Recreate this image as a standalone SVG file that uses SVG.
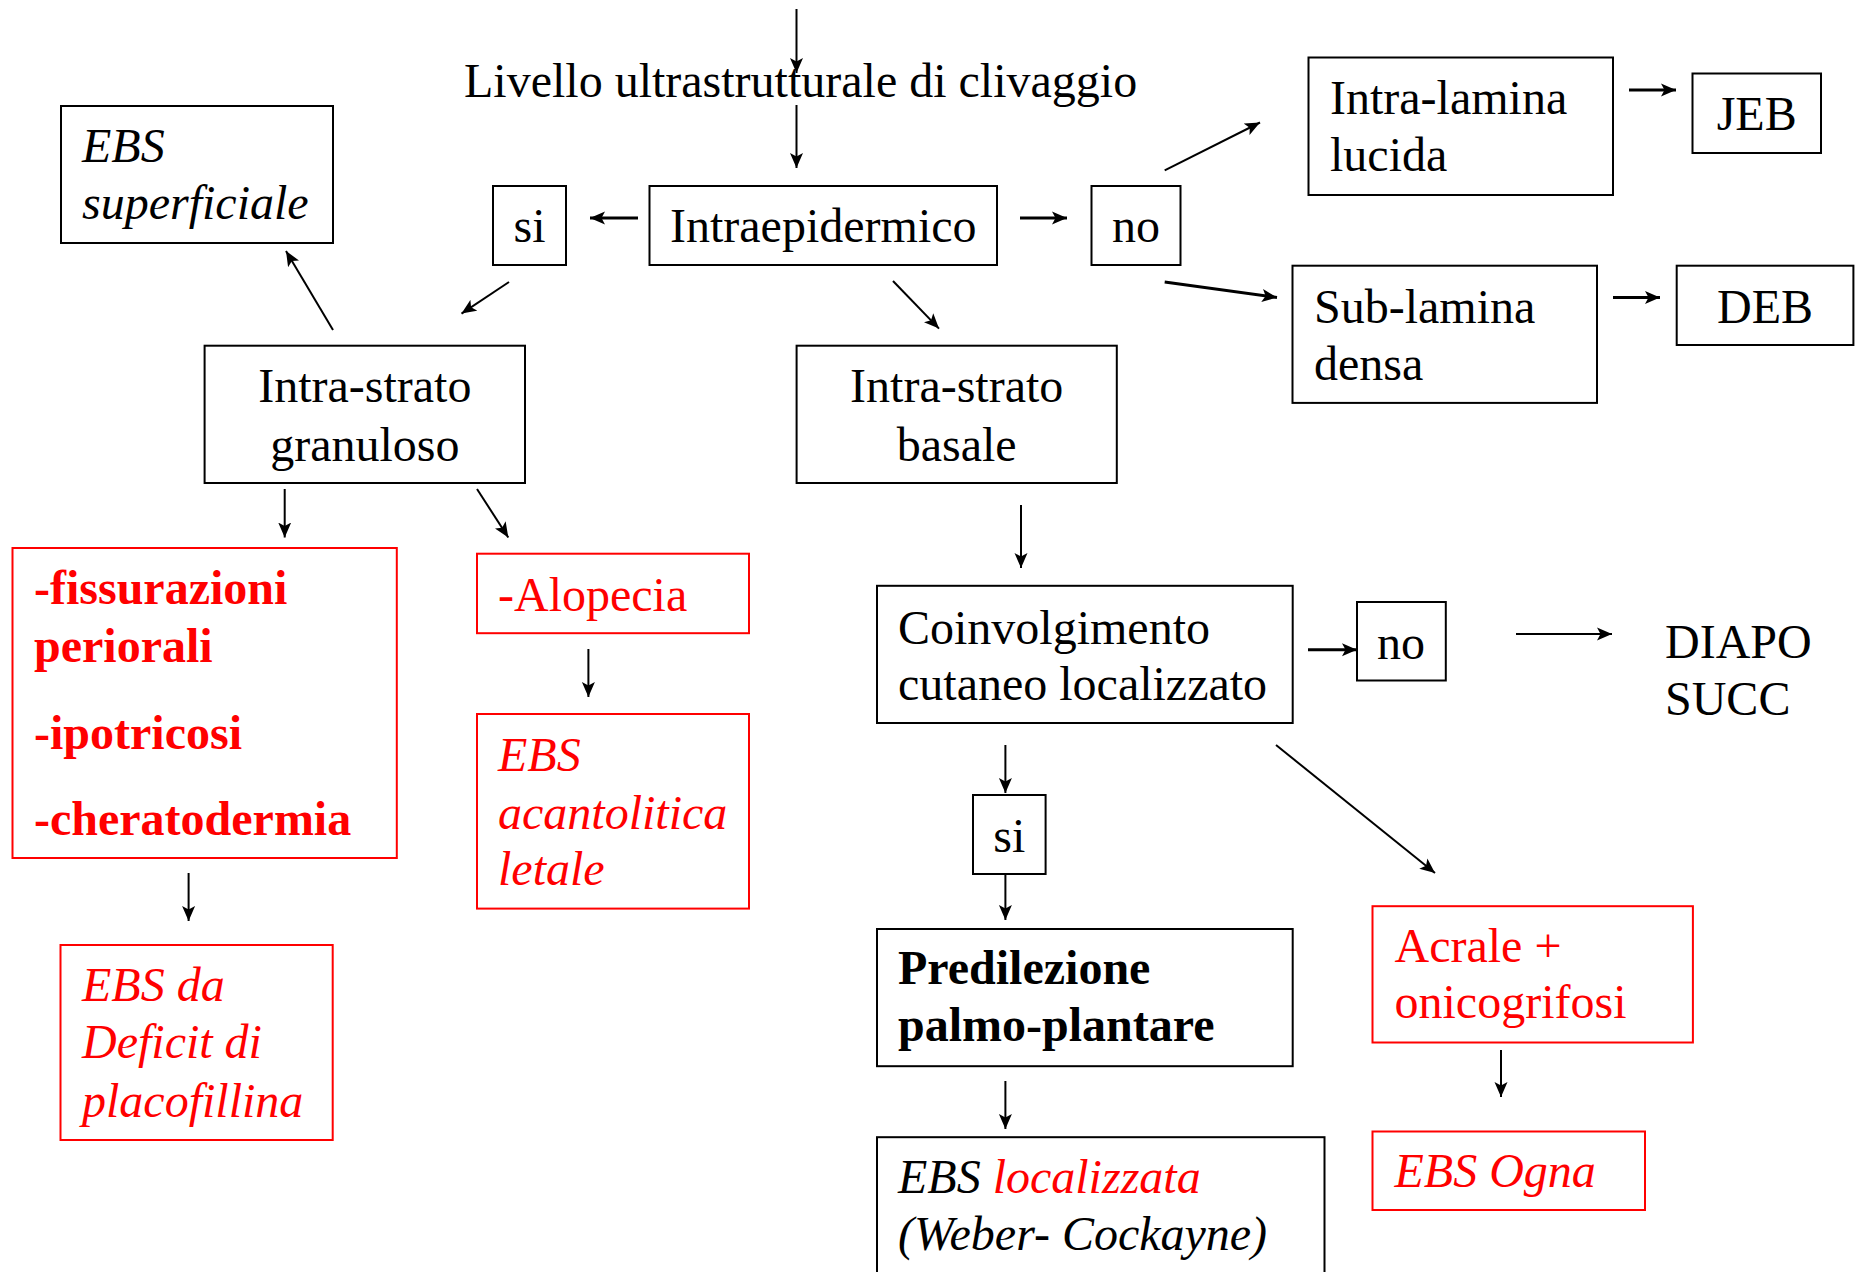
<svg xmlns="http://www.w3.org/2000/svg" width="1857" height="1272" viewBox="0 0 1857 1272">
  <style>
    text { font-family: "Liberation Serif", "Times New Roman", serif; font-size: 48px; fill: #000; }
    .red { fill: #ff0000; }
    .it { font-style: italic; }
    .b { font-weight: bold; }
    .mid { text-anchor: middle; }
    .box { fill: #fff; stroke: #000; stroke-width: 2; }
    .rbox { fill: #fff; stroke: #ff0000; stroke-width: 2; }
    .arrow { fill: none; stroke: #000; stroke-width: 2; marker-end: url(#head); }
    .thick { stroke-width: 3; }
  </style>
  <defs>
    <marker id="head" markerUnits="userSpaceOnUse" viewBox="0 0 16 14" refX="15" refY="7" markerWidth="16" markerHeight="14" orient="auto">
      <path d="M0,0.5 L15,7 L0,13.5 L3.5,7 Z" fill="#000"/>
    </marker>
  </defs>

  <rect width="1857" height="1272" fill="#fff"/>

  <!-- title -->
  <g id="title">
    <text x="464" y="97">Livello ultrastrutturale di clivaggio</text>
  </g>

  <!-- connectors -->
  <g id="connectors">
    <line class="arrow" x1="796.5" y1="9" x2="796.5" y2="73"/>
    <line class="arrow" x1="796.5" y1="105" x2="796.5" y2="168"/>
    <line class="arrow thick" x1="638" y1="218" x2="590" y2="218"/>
    <line class="arrow thick" x1="1020" y1="218" x2="1067" y2="218"/>
    <line class="arrow" x1="509" y1="282" x2="461.5" y2="313.6"/>
    <line class="arrow" x1="893" y1="281" x2="939" y2="328.6"/>
    <line class="arrow" x1="1164.7" y1="170.4" x2="1260" y2="122.5"/>
    <line class="arrow thick" x1="1164.7" y1="282" x2="1277" y2="297.5"/>
    <line class="arrow thick" x1="1629" y1="90" x2="1676" y2="90"/>
    <line class="arrow thick" x1="1613" y1="297.5" x2="1660" y2="297.5"/>
    <line class="arrow" x1="333" y1="330" x2="286" y2="251"/>
    <line class="arrow" x1="284.7" y1="489" x2="284.7" y2="537.5"/>
    <line class="arrow" x1="477" y1="489" x2="508.3" y2="537.5"/>
    <line class="arrow" x1="188.6" y1="873" x2="188.6" y2="921"/>
    <line class="arrow" x1="588.4" y1="649" x2="588.4" y2="697"/>
    <line class="arrow" x1="1021" y1="505" x2="1021" y2="568"/>
    <line class="arrow thick" x1="1308" y1="649.7" x2="1357" y2="649.7"/>
    <line class="arrow" x1="1516" y1="634" x2="1612" y2="634"/>
    <line class="arrow" x1="1005.4" y1="745" x2="1005.4" y2="793"/>
    <line class="arrow" x1="1005.4" y1="874" x2="1005.4" y2="920"/>
    <line class="arrow" x1="1276" y1="745" x2="1435" y2="873"/>
    <line class="arrow" x1="1005.4" y1="1081" x2="1005.4" y2="1129"/>
    <line class="arrow" x1="1501" y1="1050" x2="1501" y2="1097"/>
  </g>

  <!-- nodes -->
  <g id="ebs-superficiale">
    <rect class="box" x="61" y="106" width="272" height="137"/>
    <text class="it" x="82" y="162">EBS</text>
    <text class="it" x="82" y="219">superficiale</text>
  </g>
  <g id="si-1">
    <rect class="box" x="493" y="186" width="73" height="79"/>
    <text class="mid" x="529.5" y="242">si</text>
  </g>
  <g id="intraepidermico">
    <rect class="box" x="649.5" y="186" width="347.5" height="79"/>
    <text x="670" y="242">Intraepidermico</text>
  </g>
  <g id="no-1">
    <rect class="box" x="1091.5" y="186" width="89" height="79"/>
    <text class="mid" x="1136" y="242">no</text>
  </g>
  <g id="intra-lamina-lucida">
    <rect class="box" x="1308.5" y="57.5" width="304.5" height="137.5"/>
    <text x="1330" y="113.6">Intra-lamina</text>
    <text x="1330" y="171">lucida</text>
  </g>
  <g id="jeb">
    <rect class="box" x="1692.5" y="73.5" width="128.5" height="79.5"/>
    <text class="mid" x="1756.7" y="130">JEB</text>
  </g>
  <g id="sub-lamina-densa">
    <rect class="box" x="1292.5" y="265.7" width="304.5" height="137.2"/>
    <text x="1314" y="322.5">Sub-lamina</text>
    <text x="1314" y="380">densa</text>
  </g>
  <g id="deb">
    <rect class="box" x="1676.7" y="265.7" width="176.7" height="79.3"/>
    <text class="mid" x="1765" y="322.5">DEB</text>
  </g>
  <g id="intra-strato-granuloso">
    <rect class="box" x="204.6" y="345.7" width="320.4" height="137.3"/>
    <text class="mid" x="364.8" y="402">Intra-strato</text>
    <text class="mid" x="364.8" y="461">granuloso</text>
  </g>
  <g id="intra-strato-basale">
    <rect class="box" x="796.6" y="345.7" width="320.2" height="137.3"/>
    <text class="mid" x="956.7" y="402">Intra-strato</text>
    <text class="mid" x="956.7" y="461">basale</text>
  </g>
  <g id="segni-granuloso">
    <rect class="rbox" x="12.5" y="548" width="384.3" height="310"/>
    <text class="red b" x="34" y="604">-fissurazioni</text>
    <text class="red b" x="34" y="662">periorali</text>
    <text class="red b" x="34" y="749">-ipotricosi</text>
    <text class="red b" x="34" y="835">-cheratodermia</text>
  </g>
  <g id="alopecia">
    <rect class="rbox" x="477" y="553.7" width="272" height="79.5"/>
    <text class="red" x="498" y="610.5">-Alopecia</text>
  </g>
  <g id="ebs-acantolitica">
    <rect class="rbox" x="477" y="714" width="272" height="194.6"/>
    <text class="red it" x="498" y="771">EBS</text>
    <text class="red it" x="498" y="829">acantolitica</text>
    <text class="red it" x="498" y="885">letale</text>
  </g>
  <g id="ebs-placofillina">
    <rect class="rbox" x="60.5" y="945" width="272.2" height="195"/>
    <text class="red it" x="82" y="1001">EBS da</text>
    <text class="red it" x="82" y="1058">Deficit di</text>
    <text class="red it" x="82" y="1117">placofillina</text>
  </g>
  <g id="coinvolgimento">
    <rect class="box" x="877" y="585.8" width="415.7" height="137.2"/>
    <text x="898" y="644">Coinvolgimento</text>
    <text x="898" y="700">cutaneo localizzato</text>
  </g>
  <g id="no-2">
    <rect class="box" x="1357" y="602" width="88.8" height="78.5"/>
    <text class="mid" x="1401" y="659">no</text>
  </g>
  <g id="diapo-succ">
    <text x="1665" y="658">DIAPO</text>
    <text x="1665" y="715">SUCC</text>
  </g>
  <g id="si-2">
    <rect class="box" x="973" y="795" width="72.6" height="79"/>
    <text class="mid" x="1009.3" y="852">si</text>
  </g>
  <g id="predilezione">
    <rect class="box" x="877" y="929" width="415.7" height="137.2"/>
    <text class="b" x="898" y="984">Predilezione</text>
    <text class="b" x="898" y="1041">palmo-plantare</text>
  </g>
  <g id="ebs-localizzata">
    <rect class="box" x="877" y="1137.2" width="447.5" height="200"/>
    <text class="it" x="898" y="1193">EBS <tspan class="red">localizzata</tspan></text>
    <text class="it" x="898" y="1250">(Weber- Cockayne)</text>
  </g>
  <g id="acrale">
    <rect class="rbox" x="1372.5" y="906.2" width="320.4" height="136.3"/>
    <text class="red" x="1394.5" y="962">Acrale +</text>
    <text class="red" x="1394.5" y="1018">onicogrifosi</text>
  </g>
  <g id="ebs-ogna">
    <rect class="rbox" x="1372.5" y="1131.5" width="272.5" height="78.5"/>
    <text class="red it" x="1394.5" y="1187">EBS Ogna</text>
  </g>
</svg>
